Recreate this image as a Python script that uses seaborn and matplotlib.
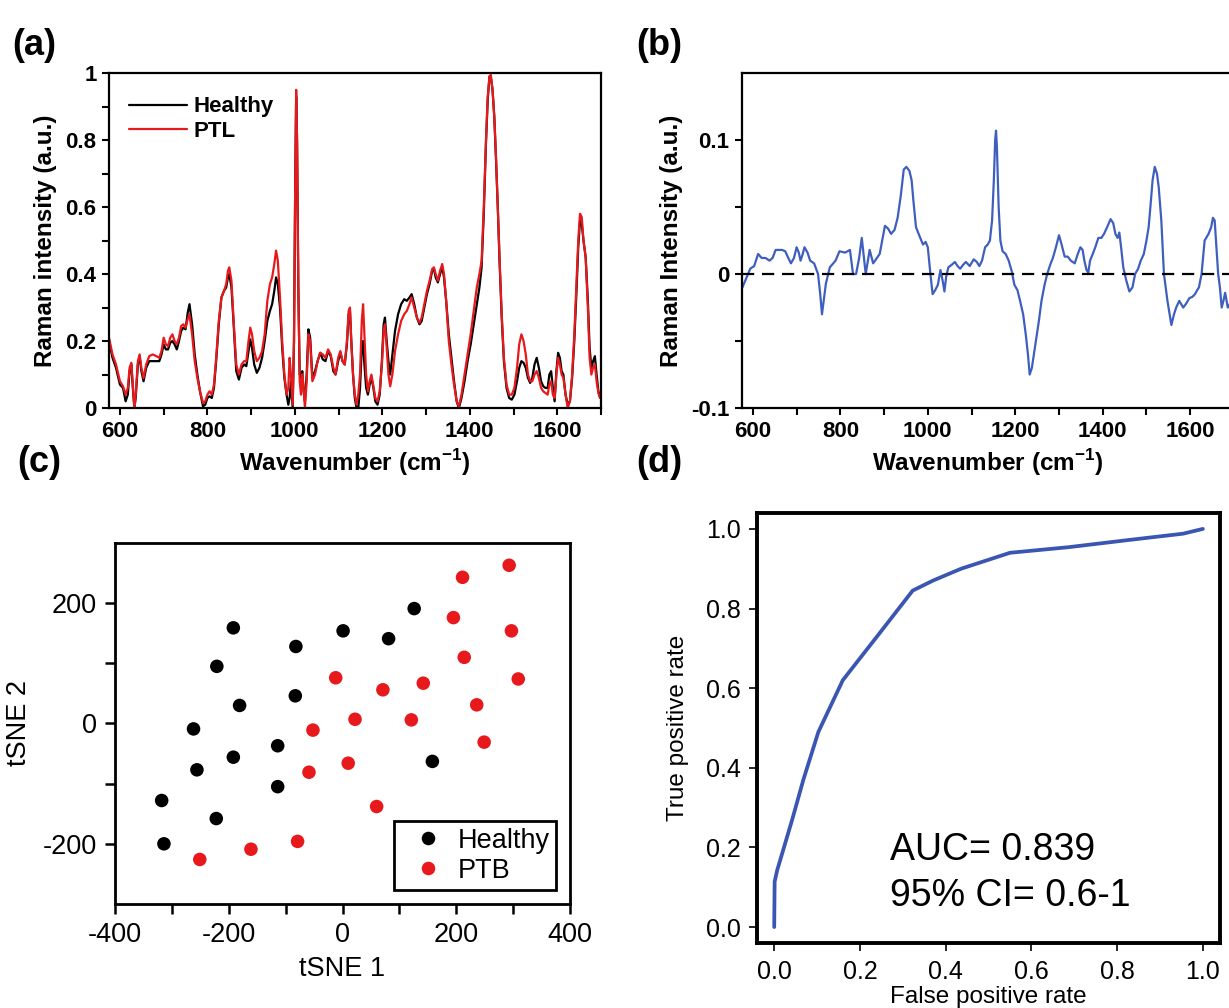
import matplotlib
matplotlib.use('Agg')
import numpy as np
import pandas as pd
import matplotlib.pyplot as plt
import seaborn as sns

# ---- (a) mean Raman spectra ----
wn_a = [575, 583, 591, 600, 607, 613, 618, 622, 626, 630, 633, 636, 641, 645, 649, 654, 660, 667, 675, 683,
        690, 695, 700, 705, 710, 715, 720, 725, 730, 735, 740, 745, 750, 755, 759, 765, 771, 777, 783, 790,
        795, 800, 805, 810, 815, 820, 826, 832, 838, 843, 847, 850, 855, 860, 866, 872, 878, 884, 889, 894,
        898, 902, 907, 913, 919, 925, 931, 937, 943, 948, 953, 957, 961, 966, 971, 976, 981, 985, 988, 991,
        995, 998, 1001, 1003, 1005, 1008, 1011, 1014, 1017, 1020, 1023, 1027, 1031, 1035, 1040, 1046, 1052,
        1058, 1064, 1070, 1076, 1082, 1088, 1093, 1099, 1104, 1109, 1114, 1119, 1123, 1126, 1129, 1133, 1137,
        1141, 1145, 1149, 1153, 1156, 1159, 1163, 1167, 1171, 1175, 1179, 1184, 1189, 1194, 1199, 1203, 1206,
        1210, 1214, 1218, 1223, 1229, 1236, 1243, 1250, 1256, 1262, 1267, 1273, 1279, 1285, 1290, 1296, 1302,
        1308, 1314, 1318, 1322, 1327, 1332, 1337, 1341, 1346, 1352, 1358, 1364, 1370, 1375, 1381, 1388, 1395,
        1402, 1409, 1416, 1422, 1427, 1432, 1437, 1441, 1445, 1448, 1452, 1456, 1460, 1464, 1468, 1473, 1478,
        1484, 1490, 1496, 1502, 1508, 1513, 1518, 1523, 1528, 1533, 1538, 1543, 1548, 1553, 1558, 1563, 1568,
        1573, 1578, 1582, 1586, 1590, 1594, 1598, 1602, 1606, 1610, 1614, 1619, 1624, 1629, 1634, 1639, 1644,
        1648, 1652, 1656, 1660, 1665, 1670, 1674, 1678, 1682, 1686, 1690, 1694, 1698]
ptl = [0.21, 0.16, 0.13, 0.08, 0.065, 0.04, 0.06, 0.12, 0.135, 0.06, 0.0, 0.04, 0.14, 0.16, 0.12, 0.09, 0.13, 0.155, 0.16, 0.155,
       0.15, 0.17, 0.21, 0.19, 0.185, 0.21, 0.22, 0.2, 0.19, 0.21, 0.245, 0.25, 0.24, 0.265, 0.28, 0.22, 0.14, 0.09, 0.05, 0.015,
       0.02, 0.04, 0.05, 0.04, 0.07, 0.15, 0.26, 0.33, 0.35, 0.37, 0.41, 0.42, 0.38, 0.26, 0.13, 0.1, 0.13, 0.14, 0.14, 0.2,
       0.24, 0.22, 0.17, 0.14, 0.15, 0.17, 0.22, 0.32, 0.37, 0.39, 0.43, 0.47, 0.44, 0.33, 0.2, 0.1, 0.04, 0.06, 0.15, 0.1,
       0.01, 0.2, 0.7, 0.95, 0.8, 0.35, 0.08, 0.04, 0.1, 0.06, 0.0, 0.08, 0.22, 0.2, 0.08, 0.1, 0.14,
       0.165, 0.16, 0.15, 0.175, 0.16, 0.12, 0.1, 0.15, 0.17, 0.14, 0.13, 0.2, 0.29, 0.3, 0.2, 0.1, 0.04,
       0.01, 0.04, 0.1, 0.26, 0.31, 0.22, 0.1, 0.05, 0.08, 0.1, 0.07, 0.03, 0.02, 0.05, 0.13, 0.23, 0.25,
       0.18, 0.1, 0.065, 0.1, 0.17, 0.22, 0.26, 0.28, 0.29, 0.31, 0.33, 0.3, 0.27, 0.255, 0.27, 0.31, 0.35,
       0.38, 0.415, 0.42, 0.4, 0.38, 0.41, 0.43, 0.4, 0.32, 0.2, 0.13, 0.07, 0.02, 0.005, 0.04, 0.1, 0.16,
       0.22, 0.29, 0.36, 0.4, 0.44, 0.6, 0.8, 0.93, 0.99, 0.995, 0.95, 0.87, 0.75, 0.6, 0.45, 0.28, 0.15,
       0.07, 0.04, 0.04, 0.06, 0.12, 0.19, 0.22, 0.2, 0.16, 0.1, 0.08, 0.08, 0.1, 0.11, 0.09, 0.06, 0.05,
       0.045, 0.04, 0.07, 0.08, 0.04, 0.03, 0.1, 0.15, 0.13, 0.1, 0.09, 0.04, 0.0, 0.02, 0.1, 0.22, 0.38,
       0.5, 0.58, 0.57, 0.5, 0.45, 0.3, 0.15, 0.1, 0.12, 0.13, 0.08, 0.045, 0.03]
healthy = [0.2, 0.15, 0.12, 0.07, 0.06, 0.02, 0.04, 0.11, 0.13, 0.05, 0.0, 0.03, 0.13, 0.155, 0.11, 0.08, 0.12, 0.14, 0.14, 0.14,
           0.14, 0.16, 0.19, 0.175, 0.175, 0.195, 0.2, 0.19, 0.175, 0.2, 0.23, 0.24, 0.235, 0.285, 0.31, 0.25, 0.16, 0.1, 0.05, 0.005,
           0.01, 0.03, 0.035, 0.03, 0.06, 0.14, 0.25, 0.33, 0.35, 0.36, 0.39, 0.4, 0.36, 0.25, 0.11, 0.085, 0.12, 0.13, 0.125, 0.17,
           0.205, 0.18, 0.13, 0.105, 0.12, 0.15, 0.2, 0.26, 0.29, 0.31, 0.35, 0.39, 0.37, 0.3, 0.18, 0.09, 0.04, 0.01, 0.03, 0.08,
           0.0, 0.2, 0.7, 0.93, 0.8, 0.35, 0.1, 0.09, 0.11, 0.05, 0.02, 0.1, 0.235, 0.21, 0.09, 0.11, 0.14,
           0.165, 0.145, 0.14, 0.17, 0.155, 0.11, 0.1, 0.14, 0.165, 0.14, 0.13, 0.19, 0.28, 0.29, 0.2, 0.1, 0.03,
           0.0, 0.0, 0.06, 0.18, 0.2, 0.13, 0.06, 0.04, 0.07, 0.09, 0.065, 0.02, 0.01, 0.04, 0.14, 0.25, 0.27,
           0.2, 0.14, 0.1, 0.16, 0.23, 0.28, 0.31, 0.325, 0.32, 0.33, 0.34, 0.31, 0.27, 0.25, 0.26, 0.3, 0.34,
           0.37, 0.41, 0.415, 0.39, 0.375, 0.4, 0.42, 0.39, 0.32, 0.22, 0.15, 0.08, 0.02, 0.0, 0.03, 0.08, 0.14,
           0.19, 0.25, 0.31, 0.36, 0.42, 0.58, 0.79, 0.92, 0.99, 0.99, 0.95, 0.87, 0.74, 0.6, 0.44, 0.27, 0.14,
           0.06, 0.03, 0.025, 0.04, 0.08, 0.12, 0.14, 0.135, 0.12, 0.09, 0.075, 0.09, 0.13, 0.15, 0.12, 0.08, 0.065,
           0.06, 0.06, 0.1, 0.11, 0.06, 0.02, 0.11, 0.165, 0.15, 0.11, 0.1, 0.04, 0.01, 0.02, 0.09, 0.2, 0.35,
           0.48, 0.56, 0.55, 0.5, 0.45, 0.32, 0.18, 0.12, 0.14, 0.155, 0.1, 0.05, 0.03]

# ---- (b) difference spectrum ----
wn_b = [576, 585, 594, 603, 612, 620, 629, 638, 645, 652, 660, 667, 674, 681, 687, 694, 700, 705, 709, 714, 718, 725,
        731, 740, 749, 754, 758, 762, 767, 776, 789, 798, 811, 822, 829, 836, 843, 849, 853, 858, 867, 875, 890,
        902, 909, 916, 924, 931, 938, 945, 951, 958, 963, 967, 973, 979, 989, 995, 1000, 1006, 1011, 1017, 1023,
        1029, 1034, 1038, 1042, 1047, 1055, 1062, 1068, 1074, 1081, 1087, 1096, 1105, 1112, 1118, 1124, 1131, 1137,
        1142, 1147, 1151, 1154, 1156, 1158, 1162, 1166, 1171, 1178, 1185, 1192, 1198, 1205, 1211, 1218, 1224, 1229,
        1233, 1238, 1247, 1254, 1260, 1267, 1273, 1280, 1286, 1293, 1300, 1306, 1313, 1320, 1327, 1336, 1343, 1349,
        1354, 1358, 1363, 1367, 1371, 1376, 1383, 1390, 1397, 1403, 1410, 1418, 1424, 1429, 1434, 1438, 1442, 1447,
        1454, 1461, 1468, 1474, 1481, 1487, 1494, 1500, 1505, 1509, 1514, 1519, 1524, 1528, 1534, 1540, 1548, 1557,
        1563, 1568, 1575, 1584, 1591, 1598, 1605, 1611, 1616, 1620, 1626, 1633, 1642, 1648, 1652, 1656, 1659, 1664,
        1668, 1672, 1676, 1680, 1686, 1695]
diff = [-0.01, -0.003, 0.004, 0.006, 0.015, 0.012, 0.012, 0.01, 0.012, 0.018, 0.018, 0.018, 0.017, 0.012, 0.008, 0.012,
        0.02, 0.016, 0.01, 0.015, 0.02, 0.016, 0.01, 0.008, 0.0, -0.015, -0.03, -0.02, -0.007, 0.005, 0.01, 0.017,
        0.016, 0.018, 0.0, 0.0, 0.012, 0.027, 0.015, 0.0, 0.018, 0.008, 0.015, 0.036, 0.034, 0.03, 0.033, 0.042,
        0.058, 0.078, 0.08, 0.077, 0.07, 0.055, 0.035, 0.03, 0.022, 0.024, 0.02, 0.0, -0.015, -0.012, -0.008, 0.003,
        -0.005, -0.013, -0.002, 0.005, 0.007, 0.009, 0.006, 0.004, 0.007, 0.009, 0.006, 0.011, 0.009, 0.006, 0.01,
        0.02, 0.022, 0.025, 0.04, 0.07, 0.1, 0.107, 0.095, 0.05, 0.025, 0.017, 0.015, 0.01, 0.002, -0.008, -0.012,
        -0.02, -0.03, -0.045, -0.06, -0.075, -0.07, -0.05, -0.035, -0.02, -0.008, 0.0, 0.007, 0.012, 0.02, 0.029,
        0.022, 0.013, 0.013, 0.01, 0.008, 0.015, 0.02, 0.018, 0.01, 0.003, 0.001, 0.01, 0.014, 0.02, 0.027, 0.027,
        0.03, 0.035, 0.041, 0.038, 0.03, 0.027, 0.031, 0.02, 0.005, -0.005, -0.013, -0.01, 0.0, 0.004, 0.01, 0.015,
        0.025, 0.035, 0.05, 0.07, 0.08, 0.075, 0.065, 0.04, 0.0, -0.02, -0.038, -0.03, -0.025, -0.02, -0.025,
        -0.022, -0.018, -0.017, -0.015, -0.012, -0.01, 0.0, 0.025, 0.03, 0.035, 0.042, 0.04, 0.025, 0.0, -0.01,
        -0.025, -0.02, -0.014, -0.025, -0.02]

# ---- (c) tSNE embedding ----
healthy_x = [-192, -221, -181, -262, -192, -256, -318, -222, -314, -82, -83, -114, -114, 1, 81, 126, 158]
healthy_y = [159, 95, 30, -9, -56, -77, -128, -158, -200, 128, 46, -37, -105, 154, 141, 191, -63]
ptb_x = [211, 293, 195, 297, 214, 309, -12, 71, 142, 236, 22, 121, -52, 249, 10, -59, 60, -79, -161, -251]
ptb_y = [243, 263, 176, 154, 110, 74, 76, 56, 67, 31, 7, 6, -11, -31, -66, -81, -138, -196, -209, -226]

# ---- (d) ROC curve ----
fpr = [0.0, 0.001, 0.007, 0.02, 0.042, 0.068, 0.103, 0.16, 0.24, 0.323, 0.37, 0.436, 0.55, 0.686, 0.826, 0.954, 1.0]
tpr = [0.0, 0.114, 0.143, 0.19, 0.27, 0.37, 0.49, 0.62, 0.73, 0.845, 0.87, 0.90, 0.94, 0.954, 0.972, 0.988, 1.0]

RED = '#E8191C'
BLUE = '#3F5FBF'

sns.set_style('ticks')
plt.rcParams['font.family'] = ['Liberation Sans', 'DejaVu Sans']
plt.rcParams['axes.unicode_minus'] = False
plt.rcParams['mathtext.fontset'] = 'custom'
plt.rcParams['mathtext.rm'] = 'Liberation Sans'
plt.rcParams['mathtext.bf'] = 'Liberation Sans:bold'
for key in ['text.color', 'axes.labelcolor', 'xtick.color', 'ytick.color', 'axes.edgecolor']:
    plt.rcParams[key] = 'black'

fig = plt.figure(figsize=(12.29, 10.08), dpi=100)
ax_a = fig.add_axes([0.0887, 0.5952, 0.4003, 0.3323])
ax_b = fig.add_axes([0.6037, 0.5952, 0.4003, 0.3323])
ax_c = fig.add_axes([0.0936, 0.1032, 0.3702, 0.3581])
ax_d = fig.add_axes([0.616, 0.0645, 0.3767, 0.4266])


def spectrum_axes(ax, ylabel):
    ax.set_xlim(575, 1700)
    ax.set_xticks([600, 800, 1000, 1200, 1400, 1600])
    ax.set_xticks(np.arange(700, 1701, 200), minor=True)
    ax.set_xticklabels(['600', '800', '1000', '1200', '1400', '1600'], fontweight='bold', fontsize=16)
    ax.tick_params(which='both', direction='out', length=5, width=1.5, pad=4)
    ax.set_xlabel(r'Wavenumber (cm$^{\mathbf{-1}}$)', fontweight='bold', fontsize=17.5, labelpad=4)
    ax.set_ylabel(ylabel, fontweight='bold', fontsize=17.5, labelpad=6)
    for s in ax.spines.values():
        s.set_linewidth(1.6)


# (a)
sns.lineplot(x=wn_a, y=healthy, color='black', lw=1.6, label='Healthy', estimator=None, ax=ax_a)
sns.lineplot(x=wn_a, y=ptl, color=RED, lw=1.6, label='PTL', estimator=None, ax=ax_a)
spectrum_axes(ax_a, 'Raman intensity (a.u.)')
ax_a.set_ylim(0, 1)
ax_a.set_yticks([0, 0.2, 0.4, 0.6, 0.8, 1.0])
ax_a.set_yticks([0.1, 0.3, 0.5, 0.7, 0.9], minor=True)
ax_a.set_yticklabels(['0', '0.2', '0.4', '0.6', '0.8', '1'], fontweight='bold', fontsize=16)
ax_a.legend(loc='upper left', bbox_to_anchor=(0.0, 0.99), frameon=False, handlelength=2.6,
            labelspacing=0.15, handletextpad=0.3, prop={'weight': 'bold', 'size': 16})

# (b)
sns.lineplot(x=wn_b, y=diff, color=BLUE, lw=1.6, estimator=None, ax=ax_b)
ax_b.axhline(0, color='black', lw=1.6, ls=(0, (5.5, 3.5)))
spectrum_axes(ax_b, 'Raman Intensity (a.u.)')
ax_b.set_ylim(-0.1, 0.15)
ax_b.set_yticks([-0.1, 0, 0.1])
ax_b.set_yticks([-0.05, 0.05], minor=True)
ax_b.set_yticklabels(['-0.1', '0', '0.1'], fontweight='bold', fontsize=16)

# (c)
df_c = pd.DataFrame({
    'tSNE 1': healthy_x + ptb_x,
    'tSNE 2': healthy_y + ptb_y,
    'group': ['Healthy'] * len(healthy_x) + ['PTB'] * len(ptb_x),
})
sns.scatterplot(data=df_c, x='tSNE 1', y='tSNE 2', hue='group', palette={'Healthy': 'black', 'PTB': RED},
                s=95, edgecolor='none', ax=ax_c)
ax_c.set_xlim(-400, 400)
ax_c.set_ylim(-300, 300)
ax_c.set_xticks([-400, -200, 0, 200, 400])
ax_c.set_xticks([-300, -100, 100, 300], minor=True)
ax_c.set_yticks([-200, 0, 200])
ax_c.set_yticks([-100, 100], minor=True)
ax_c.tick_params(which='both', direction='out', length=7, width=1.8, pad=6, labelsize=19.5)
ax_c.set_xlabel('tSNE 1', fontsize=19.5, labelpad=6)
ax_c.set_ylabel('tSNE 2', fontsize=19.5, labelpad=8)
for s in ax_c.spines.values():
    s.set_linewidth(2.0)
h, l = ax_c.get_legend_handles_labels()
leg = ax_c.legend(h, l, loc='lower right', fontsize=19.5, frameon=True, fancybox=False, framealpha=1,
                  edgecolor='black', handletextpad=0.1, borderpad=0.25, labelspacing=0.15, markerscale=1.0)
leg.get_frame().set_linewidth(2.0)

# (d)
sns.lineplot(x=fpr, y=tpr, sort=False, estimator=None, color='#3A55B2', lw=2.7, ax=ax_d)
ax_d.set_xlim(-0.04, 1.04)
ax_d.set_ylim(-0.04, 1.04)
ticks_d = [0.0, 0.2, 0.4, 0.6, 0.8, 1.0]
ax_d.set_xticks(ticks_d)
ax_d.set_yticks(ticks_d)
ax_d.set_xticklabels([f'{t:.1f}' for t in ticks_d])
ax_d.set_yticklabels([f'{t:.1f}' for t in ticks_d])
ax_d.tick_params(direction='out', length=6, width=1.2, pad=6, labelsize=18)
ax_d.set_xlabel('False positive rate', fontsize=17.5, labelpad=2)
ax_d.set_ylabel('True positive rate', fontsize=17.5, labelpad=12)
for s in ax_d.spines.values():
    s.set_linewidth(2.8)
ax_d.text(0.27, 0.193, 'AUC= 0.839', fontsize=27, va='center', ha='left')
ax_d.text(0.27, 0.077, '95% CI= 0.6-1', fontsize=27, va='center', ha='left')

# panel letters
for letter, x, y in [('(a)', 0.010, 0.955), ('(b)', 0.518, 0.955), ('(c)', 0.014, 0.541), ('(d)', 0.518, 0.541)]:
    fig.text(x, y, letter, fontsize=26, fontweight='bold', va='center', ha='left')

fig.savefig('out.png', dpi=100)
